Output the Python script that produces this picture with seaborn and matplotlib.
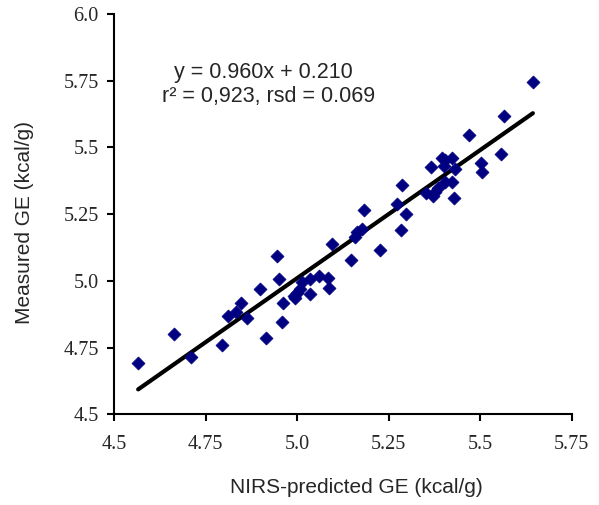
import numpy as np
import pandas as pd
import matplotlib
matplotlib.use("Agg")
import matplotlib.pyplot as plt
import seaborn as sns

# NIRS-predicted vs measured gross energy (kcal/g)
predicted = [4.566, 4.664, 4.709, 4.795, 4.811, 4.833, 4.846, 4.862, 4.898, 4.914,
             4.944, 4.950, 4.958, 4.962, 4.991, 4.994, 4.999, 5.008, 5.013, 5.035,
             5.035, 5.060, 5.085, 5.088, 5.095, 5.146, 5.158, 5.165, 5.176, 5.183,
             5.226, 5.274, 5.286, 5.284, 5.297, 5.352, 5.367, 5.371, 5.376, 5.385,
             5.397, 5.401, 5.403, 5.404, 5.422, 5.422, 5.431, 5.428, 5.470, 5.503,
             5.505, 5.556, 5.564, 5.644]
measured = [4.691, 4.800, 4.714, 4.760, 4.869, 4.884, 4.918, 4.862, 4.970, 4.787,
            5.093, 5.006, 4.845, 4.918, 4.944, 4.935, 4.953, 4.968, 4.997, 5.006,
            4.951, 5.018, 5.010, 4.972, 5.138, 5.078, 5.163, 5.184, 5.195, 5.265,
            5.116, 5.288, 5.359, 5.190, 5.250, 5.328, 5.428, 5.319, 5.334, 5.347,
            5.459, 5.430, 5.371, 5.453, 5.459, 5.371, 5.418, 5.309, 5.546, 5.440,
            5.407, 5.475, 5.619, 5.746]

slope, intercept = 0.960, 0.210
x_ticks = [4.5, 4.75, 5.0, 5.25, 5.5, 5.75]
x_tick_labels = ["4.5", "4.75", "5.0", "5.25", "5.5", "5.75"]
y_ticks = [4.5, 4.75, 5.0, 5.25, 5.5, 5.75, 6.0]
y_tick_labels = ["4.5", "4.75", "5.0", "5.25", "5.5", "5.75", "6.0"]

df = pd.DataFrame({"predicted": predicted, "measured": measured})
fit_x = np.array([min(predicted), max(predicted)])
fit = pd.DataFrame({"x": fit_x, "y": slope * fit_x + intercept})

sns.set_style("ticks")
plt.rcParams["font.family"] = ["Liberation Sans", "DejaVu Sans"]

fig = plt.figure(figsize=(5.99, 5.05), dpi=100)
ax = fig.add_axes([0.1903, 0.1796, 0.7641, 0.7927])

sns.scatterplot(data=df, x="predicted", y="measured", marker="D", s=44,
                color="#000080", edgecolor="#000080", linewidth=0.5, ax=ax, zorder=3)
sns.lineplot(data=fit, x="x", y="y", color="black", linewidth=3, ax=ax, zorder=2)

ax.set_xlim(4.5, 5.75)
ax.set_ylim(4.5, 6.0)
ax.set_xticks(x_ticks)
ax.set_xticklabels(x_tick_labels, family="Liberation Serif", fontsize=14.5)
ax.set_yticks(y_ticks)
ax.set_yticklabels(y_tick_labels, family="Liberation Serif", fontsize=14.5)
ax.tick_params(axis="both", direction="out", length=5, width=1.5, color="black")
ax.tick_params(axis="x", pad=10)
ax.tick_params(axis="y", pad=6)

for side in ["top", "right"]:
    ax.spines[side].set_visible(False)
for side in ["left", "bottom"]:
    ax.spines[side].set_linewidth(1.5)
    ax.spines[side].set_color("black")

ax.set_xlabel("NIRS-predicted GE (kcal/g)", fontsize=15, labelpad=17)
ax.set_ylabel("Measured GE (kcal/g)", fontsize=15, labelpad=21)
ax.xaxis.label.set_x(0.53)
ax.yaxis.label.set_y(0.48)

ax.text(0.3255, 0.853, "y = 0.960x + 0.210", transform=ax.transAxes,
        ha="center", va="center", fontsize=15.5)
ax.text(0.337, 0.793, "r² = 0,923, rsd = 0.069", transform=ax.transAxes,
        ha="center", va="center", fontsize=15.5)

fig.savefig("out.png", dpi=100)
